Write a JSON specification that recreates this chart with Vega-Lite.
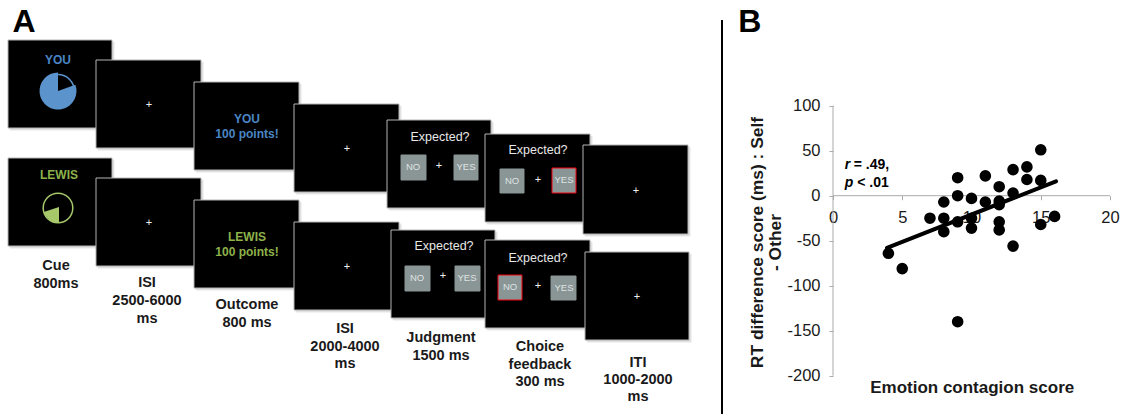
{"$schema":"https://vega.github.io/schema/vega-lite/v6.json","background":"white","padding":0,"autosize":{"type":"pad"},"bounds":"flush","spacing":108,
"config":{"view":{"stroke":null},"font":"Liberation Sans","text":{"font":"Liberation Sans"},"axis":{"labelFont":"Liberation Sans","titleFont":"Liberation Sans"}},
"datasets":{
"cards":[
{"x":10,"x2":114,"y":42,"y2":130,"kind":"shadow"},{"x":8,"x2":112,"y":40,"y2":128,"kind":"card"},
{"x":10,"x2":114,"y":160,"y2":248,"kind":"shadow"},{"x":8,"x2":112,"y":158,"y2":246,"kind":"card"},
{"x":98,"x2":203,"y":62,"y2":150,"kind":"shadow"},{"x":96,"x2":201,"y":60,"y2":148,"kind":"card"},
{"x":98,"x2":203,"y":180,"y2":268,"kind":"shadow"},{"x":96,"x2":201,"y":178,"y2":266,"kind":"card"},
{"x":196,"x2":301,"y":84,"y2":172,"kind":"shadow"},{"x":194,"x2":299,"y":82,"y2":170,"kind":"card"},
{"x":196,"x2":301,"y":202,"y2":290,"kind":"shadow"},{"x":194,"x2":299,"y":200,"y2":288,"kind":"card"},
{"x":296,"x2":401,"y":106,"y2":194,"kind":"shadow"},{"x":294,"x2":399,"y":104,"y2":192,"kind":"card"},
{"x":296,"x2":401,"y":224,"y2":312,"kind":"shadow"},{"x":294,"x2":399,"y":222,"y2":310,"kind":"card"},
{"x":389,"x2":493,"y":122,"y2":210,"kind":"shadow"},{"x":387,"x2":491,"y":120,"y2":208,"kind":"card"},
{"x":393,"x2":497,"y":232,"y2":320,"kind":"shadow"},{"x":391,"x2":495,"y":230,"y2":318,"kind":"card"},
{"x":487,"x2":592,"y":136,"y2":224,"kind":"shadow"},{"x":485,"x2":590,"y":134,"y2":222,"kind":"card"},
{"x":487,"x2":592,"y":242,"y2":330,"kind":"shadow"},{"x":485,"x2":590,"y":240,"y2":328,"kind":"card"},
{"x":585,"x2":690,"y":147,"y2":236,"kind":"shadow"},{"x":583,"x2":688,"y":145,"y2":234,"kind":"card"},
{"x":587,"x2":691,"y":254,"y2":342,"kind":"shadow"},{"x":585,"x2":689,"y":252,"y2":340,"kind":"card"},
{"x":401,"x2":426,"y":155,"y2":180,"kind":"button"},{"x":454,"x2":478,"y":155,"y2":180,"kind":"button"},
{"x":500,"x2":524,"y":169,"y2":193,"kind":"button"},{"x":552,"x2":576,"y":168,"y2":193,"kind":"selected"},
{"x":405,"x2":430,"y":266,"y2":291,"kind":"button"},{"x":455,"x2":480,"y":266,"y2":291,"kind":"button"},
{"x":498,"x2":522,"y":275,"y2":300,"kind":"selected"},{"x":551,"x2":576,"y":276,"y2":300,"kind":"button"}],
"rings":[{"x":58,"y":91,"tone":"blue"}],
"ringsGreen":[{"x":58,"y":208,"tone":"green"}],
"wedgeBlue":[{"x":58,"y":91,"start":1.22,"end":6.283}],
"wedgeGreen":[{"x":59,"y":207,"start":3.14,"end":4.4}],
"boldCard":[
{"x":58,"y":60,"t":"YOU","tone":"blue"},{"x":59,"y":175,"t":"LEWIS","tone":"green"},
{"x":247,"y":119,"t":"YOU","tone":"blue"},{"x":247,"y":134,"t":"100 points!","tone":"blue"},
{"x":247,"y":237,"t":"LEWIS","tone":"green"},{"x":247,"y":252,"t":"100 points!","tone":"green"}],
"expected":[{"x":440,"y":137,"t":"Expected?"},{"x":538,"y":150,"t":"Expected?"},{"x":444,"y":246,"t":"Expected?"},{"x":538,"y":258,"t":"Expected?"}],
"plus":[{"x":149,"y":105},{"x":149,"y":223},{"x":347,"y":149},{"x":347,"y":267},{"x":439,"y":166},{"x":538,"y":180},{"x":636,"y":191},{"x":443,"y":276},{"x":538,"y":286},{"x":637,"y":297}],
"buttonText":[{"x":413,"y":167,"t":"NO"},{"x":466,"y":167,"t":"YES"},{"x":512,"y":181,"t":"NO"},{"x":564,"y":180,"t":"YES"},{"x":417,"y":278,"t":"NO"},{"x":467,"y":278,"t":"YES"},{"x":510,"y":287,"t":"NO"},{"x":564,"y":288,"t":"YES"}],
"labels":[
{"x":56,"y":266,"t":"Cue"},{"x":56,"y":284,"t":"800ms"},
{"x":147,"y":283,"t":"ISI"},{"x":147,"y":301,"t":"2500-6000"},{"x":147,"y":319,"t":"ms"},
{"x":247,"y":305,"t":"Outcome"},{"x":247,"y":323,"t":"800 ms"},
{"x":345,"y":329,"t":"ISI"},{"x":345,"y":347,"t":"2000-4000"},{"x":345,"y":364,"t":"ms"},
{"x":441,"y":338,"t":"Judgment"},{"x":441,"y":356,"t":"1500 ms"},
{"x":540,"y":347,"t":"Choice"},{"x":540,"y":365,"t":"feedback"},{"x":540,"y":382,"t":"300 ms"},
{"x":638,"y":363,"t":"ITI"},{"x":638,"y":380,"t":"1000-2000"},{"x":638,"y":397,"t":"ms"}],
"letterA":[{"x":24,"y":22,"t":"A"}],
"divider":[{"x":722,"y":20,"y2":414}],
"points":[{"x":4,"y":-64},{"x":5,"y":-81},{"x":7,"y":-25},{"x":8,"y":-7},{"x":8,"y":-25},{"x":8,"y":-40},{"x":9,"y":20},{"x":9,"y":0},{"x":9,"y":-29},{"x":9,"y":-140},{"x":10,"y":-3},{"x":10,"y":-25},{"x":10,"y":-36},{"x":11,"y":22},{"x":11,"y":-7},{"x":12,"y":10},{"x":12,"y":-6},{"x":12,"y":-10},{"x":12,"y":-29},{"x":12,"y":-38},{"x":13,"y":29},{"x":13,"y":3},{"x":13,"y":-56},{"x":14,"y":32},{"x":14,"y":18},{"x":15,"y":51},{"x":15,"y":17},{"x":15,"y":-32},{"x":16,"y":-23}],
"trend":[{"x":3.9,"y":-58},{"x":16.1,"y":16}],
"xline":[{"x":0,"x2":20,"y":0}],
"yline":[{"x":0,"y":-200,"y2":100}],
"noteItalic":[{"x":0.85,"y":30,"t":"r"},{"x":0.85,"y":10,"t":"p"}],
"noteBold":[{"x":1.5,"y":30,"t":"= .49,"},{"x":1.75,"y":10,"t":"< .01"}],
"letterB":[{"x":-6,"y":193,"t":"B"}]
},
"hconcat":[
{"width":725,"height":414,
"encoding":{"x":{"field":"x","type":"quantitative","scale":{"domain":[0,725],"nice":false,"zero":false},"axis":null},"y":{"field":"y","type":"quantitative","scale":{"domain":[414,0],"nice":false,"zero":false},"axis":null}},
"layer":[
{"data":{"name":"cards"},"mark":{"type":"rect"},"encoding":{"x2":{"field":"x2"},"y2":{"field":"y2"},"fill":{"field":"kind","type":"nominal","legend":null,"scale":{"domain":["shadow","card","button","selected"],"range":["#dcdcdc","#000000","#8a9596","#8a9596"]}},"stroke":{"field":"kind","type":"nominal","legend":null,"scale":{"domain":["shadow","card","button","selected"],"range":["#e6e6e6","#b4b4b4","#8a9596","#f0000f"]}},"strokeWidth":{"field":"kind","type":"nominal","legend":null,"scale":{"domain":["shadow","card","button","selected"],"range":[1,1,1,3]}}}},
{"data":{"name":"rings"},"mark":{"type":"point","size":1075,"filled":false,"stroke":"#5b93cc","strokeWidth":1.5,"opacity":1}},
{"data":{"name":"wedgeBlue"},"mark":{"type":"arc","radius":18.5,"fill":"#5b93cc"},"encoding":{"theta":{"field":"start","type":"quantitative","scale":null},"theta2":{"field":"end"}}},
{"data":{"name":"ringsGreen"},"mark":{"type":"point","size":876,"filled":false,"stroke":"#a7c96a","strokeWidth":1.5,"opacity":1}},
{"data":{"name":"wedgeGreen"},"mark":{"type":"arc","radius":16,"fill":"#a7c96a"},"encoding":{"theta":{"field":"start","type":"quantitative","scale":null},"theta2":{"field":"end"}}},
{"data":{"name":"boldCard"},"mark":{"type":"text","fontSize":12,"fontWeight":"bold","align":"center","baseline":"middle"},"encoding":{"text":{"field":"t"},"color":{"field":"tone","type":"nominal","legend":null,"scale":{"domain":["blue","green"],"range":["#4a86c5","#8db24a"]}}}},
{"data":{"name":"expected"},"mark":{"type":"text","fontSize":12.5,"color":"#e8e8e8","align":"center","baseline":"middle"},"encoding":{"text":{"field":"t"}}},
{"data":{"name":"plus"},"mark":{"type":"text","fontSize":11,"color":"#f0f0f0","align":"center","baseline":"middle","text":"+"}},
{"data":{"name":"buttonText"},"mark":{"type":"text","fontSize":9.5,"color":"#dfe3e3","align":"center","baseline":"middle"},"encoding":{"text":{"field":"t"}}},
{"data":{"name":"labels"},"mark":{"type":"text","fontSize":14.5,"fontWeight":"bold","color":"#1a1a1a","align":"center","baseline":"middle"},"encoding":{"text":{"field":"t"}}},
{"data":{"name":"letterA"},"mark":{"type":"text","fontSize":32,"fontWeight":"bold","color":"#000000","align":"center","baseline":"middle"},"encoding":{"text":{"field":"t"}}},
{"data":{"name":"divider"},"mark":{"type":"rule","strokeWidth":2,"color":"#000000"},"encoding":{"y2":{"field":"y2"}}}
]},
{"width":289,"height":414,
"encoding":{
"x":{"field":"x","type":"quantitative","scale":{"domain":[0,20.866],"nice":false,"zero":false},"axis":{"values":[0,5,10,15,20],"domain":false,"grid":false,"offset":-218.3,"tickSize":4,"tickColor":"#aaaaaa","labelFontSize":16.5,"labelColor":"#1a1a1a","labelPadding":10,"labelFlush":false,"labelOverlap":false,"title":"Emotion contagion score","titleFontSize":17,"titleFontWeight":"bold","titleColor":"#1a1a1a","titleX":138.7,"titleY":197,"titleBaseline":"alphabetic"}},
"y":{"field":"y","type":"quantitative","scale":{"domain":[-242.56,217.44],"nice":false,"zero":false},"axis":{"values":[100,50,0,-50,-100,-150,-200],"labelExpr":"'' + datum.value","domain":false,"grid":false,"tickSize":4,"tickColor":"#aaaaaa","labelFontSize":16.5,"labelColor":"#1a1a1a","labelPadding":9,"title":["RT difference score (ms) : Self","- Other"],"titleFontSize":17.4,"titleFontWeight":"bold","titleColor":"#1a1a1a","titleLineHeight":18,"titleX":-67,"titleY":242,"titleBaseline":"bottom"}}},
"layer":[
{"data":{"name":"xline"},"mark":{"type":"rule","color":"#aaaaaa","strokeWidth":1},"encoding":{"x2":{"field":"x2"}}},
{"data":{"name":"yline"},"mark":{"type":"rule","color":"#aaaaaa","strokeWidth":1},"encoding":{"y2":{"field":"y2"}}},
{"data":{"name":"points"},"mark":{"type":"circle","size":135,"color":"#000000","opacity":1}},
{"data":{"name":"trend"},"mark":{"type":"line","color":"#000000","strokeWidth":4,"strokeCap":"round"}},
{"data":{"name":"noteItalic"},"mark":{"type":"text","fontSize":14,"fontWeight":"bold","fontStyle":"italic","color":"#000000","align":"left","baseline":"alphabetic"},"encoding":{"text":{"field":"t"}}},
{"data":{"name":"noteBold"},"mark":{"type":"text","fontSize":14,"fontWeight":"bold","color":"#000000","align":"left","baseline":"alphabetic"},"encoding":{"text":{"field":"t"}}},
{"data":{"name":"letterB"},"mark":{"type":"text","fontSize":32,"fontWeight":"bold","color":"#000000","align":"center","baseline":"middle"},"encoding":{"text":{"field":"t"}}}
]}
]}
